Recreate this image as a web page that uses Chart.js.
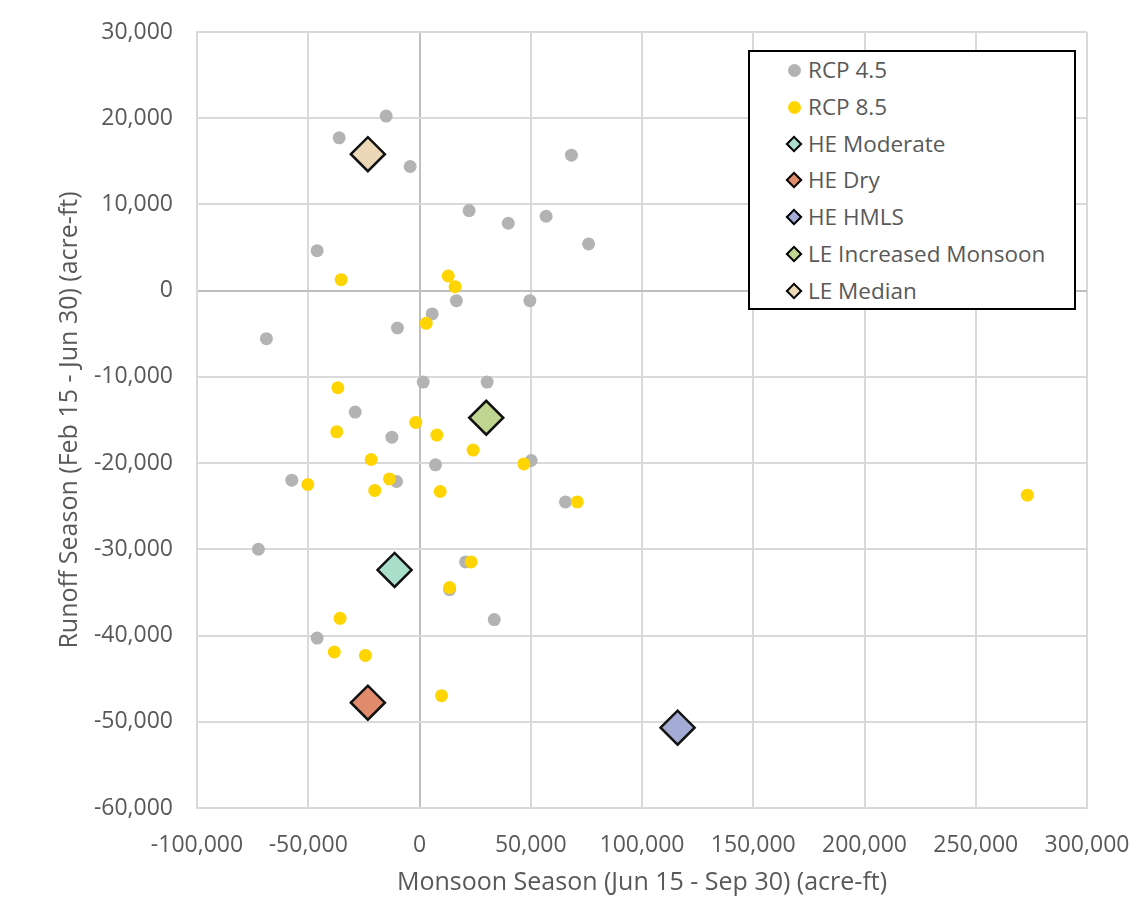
<!DOCTYPE html>
<html>
<head>
<meta charset="utf-8">
<script src="https://cdn.jsdelivr.net/npm/chart.js@4.4.1/dist/chart.umd.min.js"></script>
<style>
    body { margin: 0; background: #fff; }
    #wrap { position: relative; width: 1147px; height: 913px; }
    #legendBox {
        position: absolute; left: 748px; top: 50px; width: 324px; height: 256px;
        border: 2px solid #000; background: #fff;
        font-family: "Open Sans", sans-serif; font-size: 22.5px; color: #595959;
    }
    .row { position: absolute; left: 0; height: 30px; line-height: 30px; }
    .row .txt { position: absolute; left: 58px; white-space: nowrap; }
    .dot { position: absolute; left: 38px; top: 9px; width: 13px; height: 13px; border-radius: 50%; }
    .dia { position: absolute; left: 38px; top: 9px; width: 8px; height: 8px; border: 2px solid #000; transform: rotate(45deg); }
</style>
</head>
<body>
<div id="wrap">
    <canvas id="scatterChart"></canvas>
    <div id="legendBox"></div>
</div>
<script>
// Monsoon season (x) vs runoff season (y), acre-ft
const rcp45X = [-15000, -36100, -4200, 68300, 22300, 39900, 56900, 76000, -46000, 16600, 49600, 5700, -9900, -68800,
    1660, 30400, -28900, -12400, 7200, 50200, -57400, -10300, 65600, -72400, 20700, 13500, 33600, -46000];
const rcp45Y = [20250, 17730, 14400, 15720, 9290, 7820, 8630, 5420, 4640, -1160, -1160, -2700, -4330, -5570,
    -10600, -10600, -14080, -16990, -20200, -19700, -21980, -22130, -24500, -29990, -31460, -34670, -38150, -40290];

const rcp85X = [-35200, 12900, 16000, 3000, -36700, -37200, -1660, 7800, 24100, -21700, 46900, -50200, -13500,
    -20100, 9300, 70900, 23200, 13500, -35700, -38300, -24300, 9900, 273200];
const rcp85Y = [1280, 1700, 460, -3790, -11260, -16370, -15280, -16750, -18490, -19580, -20090, -22480, -21830,
    -23170, -23290, -24500, -31460, -34440, -38000, -41910, -42300, -46970, -23720];

// scenario diamonds
const scenarioNames = ['HE Moderate', 'HE Dry', 'HE HMLS', 'LE Increased Monsoon', 'LE Median'];
const scenarioX = [-11200, -23200, 116000, 30000, -23200];
const scenarioY = [-32390, -47790, -50690, -14740, 15830];
const scenarioColors = ['#a9dfca', '#e08c6c', '#a4abd4', '#bed690', '#ecd8b6'];

const xTicks = { min: -100000, max: 300000, step: 50000 };
const yTicks = { min: -60000, max: 30000, step: 10000 };

const textColor = '#595959';
const fontFamily = '"Open Sans", sans-serif';

const toPoints = (xs, ys) => xs.map((x, i) => ({ x: x, y: ys[i] }));

const datasets = [
    {
        label: 'RCP 4.5',
        data: toPoints(rcp45X, rcp45Y),
        backgroundColor: '#b3b3b3',
        borderWidth: 0,
        pointRadius: 6.5,
        order: 9
    },
    {
        label: 'RCP 8.5',
        data: toPoints(rcp85X, rcp85Y),
        backgroundColor: '#ffd500',
        borderWidth: 0,
        pointRadius: 6.5,
        order: 8
    }
];
scenarioNames.forEach((name, i) => {
    datasets.push({
        label: name,
        data: [{ x: scenarioX[i], y: scenarioY[i] }],
        backgroundColor: scenarioColors[i],
        borderColor: '#111',
        borderWidth: 2.5,
        pointStyle: 'rectRot',
        pointRadius: 17,
        order: i
    });
});

const gridColor = (ctx) => (ctx.tick && ctx.tick.value === 0) ? '#bfbfbf' : '#d9d9d9';
const fmt = (v) => Number(v).toLocaleString('en-US');

const chart = new Chart(document.getElementById('scatterChart'), {
    type: 'scatter',
    data: { datasets: datasets },
    options: {
        responsive: true,
        maintainAspectRatio: false,
        animation: false,
        layout: { padding: { left: 55, top: 32, right: 60, bottom: 15 } },
        plugins: {
            legend: { display: false },
            tooltip: { enabled: false }
        },
        scales: {
            x: {
                type: 'linear',
                min: xTicks.min,
                max: xTicks.max,
                ticks: {
                    stepSize: xTicks.step,
                    color: textColor,
                    font: { family: fontFamily, size: 23 },
                    padding: 24,
                    maxRotation: 0,
                    callback: fmt
                },
                grid: { color: gridColor, lineWidth: 2, drawTicks: false },
                border: { color: '#d9d9d9', width: 2 },
                title: {
                    display: true,
                    text: 'Monsoon Season (Jun 15 - Sep 30) (acre-ft)',
                    color: textColor,
                    font: { family: fontFamily, size: 25 },
                    padding: 0
                },
                // fixed box so the plot area lines up with the original
                afterFit: (s) => { s.height = 90; s.paddingLeft = 0; s.paddingRight = 0; }
            },
            y: {
                type: 'linear',
                min: yTicks.min,
                max: yTicks.max,
                ticks: {
                    stepSize: yTicks.step,
                    color: textColor,
                    font: { family: fontFamily, size: 23 },
                    padding: 24,
                    callback: fmt
                },
                grid: { color: gridColor, lineWidth: 2, drawTicks: false },
                border: { color: '#d9d9d9', width: 2 },
                title: {
                    display: true,
                    text: 'Runoff Season (Feb 15 - Jun 30) (acre-ft)',
                    color: textColor,
                    font: { family: fontFamily, size: 25 },
                    padding: 0
                },
                afterFit: (s) => { s.width = 142; s.paddingTop = 0; s.paddingBottom = 0; }
            }
        }
    },
    plugins: [{
        id: 'whiteBg',
        beforeDraw: (c) => {
            const ctx = c.ctx;
            ctx.save();
            ctx.fillStyle = '#fff';
            ctx.fillRect(0, 0, c.width, c.height);
            ctx.restore();
        }
    }]
});

// legend box built from the chart's datasets
const legendBox = document.getElementById('legendBox');
chart.data.datasets.forEach((ds, i) => {
    const row = legendBox.appendChild(document.createElement('div'));
    row.className = 'row';
    row.style.top = (3 + i * 36.8) + 'px';
    const mark = document.createElement('span');
    mark.className = ds.pointStyle === 'rectRot' ? 'dia' : 'dot';
    mark.style.background = ds.backgroundColor;
    const txt = document.createElement('span');
    txt.className = 'txt';
    txt.textContent = ds.label;
    row.appendChild(mark);
    row.appendChild(txt);
});
</script>
</body>
</html>
